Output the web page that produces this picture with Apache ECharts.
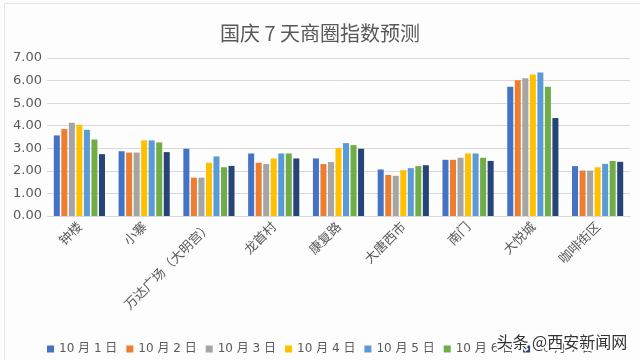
<!DOCTYPE html>
<html><head><meta charset="utf-8">
<script src="https://cdn.jsdelivr.net/npm/echarts@6/dist/echarts.min.js"></script>
<style>html,body{margin:0;padding:0;background:#fdfdfd}#c{width:640px;height:360px}</style>
</head><body><div id="c"></div>
<script>
const categories = ['钟楼','小寨','万达广场（大明宫）','龙首村','康复路','大唐西市','南门','大悦城','咖啡街区'];
const seriesNames = ['10月1日','10月2日','10月3日','10月4日','10月5日','10月6日','10月7日'];
const d1 = [3.57,2.87,2.98,2.77,2.55,2.06,2.49,5.73,2.21];
const d2 = [3.85,2.81,1.70,2.36,2.30,1.82,2.49,6.01,2.01];
const d3 = [4.13,2.81,1.70,2.30,2.39,1.78,2.58,6.10,2.01];
const d4 = [4.04,3.35,2.36,2.55,3.01,2.03,2.77,6.27,2.16];
const d5 = [3.82,3.35,2.64,2.77,3.23,2.12,2.77,6.36,2.31];
const d6 = [3.39,3.26,2.16,2.77,3.14,2.21,2.58,5.73,2.44];
const d7 = [2.74,2.83,2.22,2.55,2.98,2.25,2.44,4.34,2.40];
const yTicks = [0,1,2,3,4,5,6,7];
const colors = ['#4472C4','#ED7D31','#A5A5A5','#FFC000','#5B9BD5','#70AD47','#264478'];
const allData = [d1,d2,d3,d4,d5,d6,d7];
const font = '"DejaVu Sans", "Noto Sans CJK SC", sans-serif';
const cjk = '"Noto Sans CJK SC", sans-serif';
const chart = echarts.init(document.getElementById('c'));
chart.setOption({
  backgroundColor: '#fdfdfd',
  animation: false,
  color: colors,
  title: {text: '国庆 7 天商圈指数预测', left: 'center', top: 18,
    textStyle: {fontFamily: cjk, fontSize: 20, fontWeight: 'normal', color: '#595959'}},
  grid: {left: 47, right: 10, top: 58, bottom: 144},
  legend: {left: 42, top: 338, itemWidth: 7, itemHeight: 7, itemGap: 9, icon: 'rect',
    textStyle: {fontFamily: font, fontSize: 12, color: '#595959'},
    formatter: n => n.replace(/(\d+)月(\d+)日/, '$1 月 $2 日')},
  xAxis: {type: 'category', data: categories,
    axisLine: {lineStyle: {color: '#d9d9d9'}}, axisTick: {show: false},
    axisLabel: {rotate: 45, interval: 0, fontFamily: cjk, fontSize: 13, color: '#595959', margin: 8}},
  yAxis: {type: 'value', min: yTicks[0], max: yTicks[yTicks.length-1], interval: 1,
    axisLine: {show: false}, axisTick: {show: false},
    splitLine: {lineStyle: {color: '#d9d9d9'}},
    axisLabel: {formatter: v => v.toFixed(2), fontFamily: font, fontSize: 13, color: '#595959', margin: 5}},
  series: seriesNames.map((n, i) => ({name: n, type: 'bar', data: allData[i],
    barGap: '25%', barCategoryGap: '21%'})),
  graphic: [
    {type: 'rect', left: 2, top: 1, shape: {width: 637, height: 358}, style: {fill: 'none', stroke: '#e6e6e6', lineWidth: 1}, silent: true},
    {type: 'text', left: 495, top: 332, z: 100, style: {text: '头条 @西安新闻网', fontFamily: cjk, fontSize: 16, fill: '#333', stroke: '#fff', lineWidth: 3}}
  ]
});
</script></body></html>
